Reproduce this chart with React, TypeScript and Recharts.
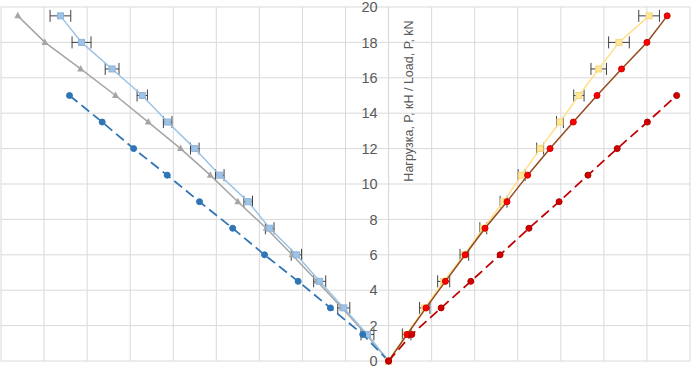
import React from 'react';
import {
  ScatterChart,
  Scatter,
  XAxis,
  YAxis,
  CartesianGrid,
  ErrorBar,
  ReferenceLine,
} from 'recharts';

// load steps, kN
const loads = [0, 1.5, 3, 4.5, 6, 7.5, 9, 10.5, 12, 13.5, 15, 16.5, 18, 19.5];

// left group (settlement drawn to the left)
const lightBlueX = [0, -0.49, -1.04, -1.6, -2.14, -2.76, -3.26, -3.92, -4.5, -5.13, -5.72, -6.42, -7.13, -7.62];
const lightBlueErr = [0, 0.15, 0.14, 0.14, 0.12, 0.1, 0.1, 0.1, 0.1, 0.1, 0.12, 0.16, 0.22, 0.24];
const grayX = [0, -0.52, -1.08, -1.66, -2.24, -2.84, -3.5, -4.14, -4.83, -5.58, -6.34, -7.15, -7.98, -8.61];
const darkBlueX = [0, -0.6, -1.35, -2.1, -2.88, -3.62, -4.39, -5.14, -5.92, -6.65, -7.41];

// right group
const yellowX = [0, 0.42, 0.84, 1.28, 1.76, 2.2, 2.67, 3.09, 3.52, 3.98, 4.42, 4.88, 5.35, 6.05];
const yellowErr = [0, 0.1, 0.12, 0.14, 0.1, 0.08, 0.08, 0.08, 0.08, 0.08, 0.12, 0.18, 0.24, 0.24];
const brownX = [0, 0.43, 0.87, 1.32, 1.78, 2.24, 2.75, 3.23, 3.75, 4.29, 4.84, 5.41, 6.0, 6.47];
const redDashX = [0, 0.54, 1.22, 1.91, 2.59, 3.26, 3.96, 4.63, 5.31, 6.01, 6.69];

const xTicks = [-9, -8, -7, -6, -5, -4, -3, -2, -1, 0, 1, 2, 3, 4, 5, 6, 7];
const yTicks = [0, 2, 4, 6, 8, 10, 12, 14, 16, 18, 20];
const axisTitle = 'Нагрузка, P, кН / Load, P, kN';

const build = (xs: number[], errs?: number[]) =>
  xs.map((x, i) => ({ x, y: loads[i], err: errs ? errs[i] : 0 }));

const lightBlueData = build(lightBlueX, lightBlueErr);
const grayData = build(grayX);
const darkBlueData = build(darkBlueX);
const yellowData = build(yellowX, yellowErr);
const brownData = build(brownX);
const redDashData = build(redDashX);
const tickLabelData = yTicks.map((y) => ({ x: 0, y }));

const FONT = '"Liberation Sans", Arial, sans-serif';

const circle = (fill: string, stroke: string) => (p: any) =>
  <circle cx={p.cx} cy={p.cy} r={3} fill={fill} stroke={stroke} strokeWidth={1} />;

const square = (fill: string, stroke: string) => (p: any) =>
  <rect x={p.cx - 3} y={p.cy - 3} width={6} height={6} fill={fill} stroke={stroke} strokeWidth={1} />;

const triangle = (fill: string) => (p: any) =>
  <polygon
    points={`${p.cx},${p.cy - 4} ${p.cx + 3.5},${p.cy + 2.5} ${p.cx - 3.5},${p.cy + 2.5}`}
    fill={fill}
  />;

// axis ticks are kept for the grid but drawn empty
const noTick = () => <g />;

const tickLabel = (p: any) => (
  <text
    x={p.cx - 11}
    y={p.cy}
    dy="0.36em"
    textAnchor="end"
    fontSize={14.5}
    fontFamily={FONT}
    fill="#595959"
  >
    {p.payload.y}
  </text>
);

const titleLabel = (p: any) => {
  const vb = p.viewBox;
  const cx = vb.x + 20;
  const cy = vb.y + 94;
  return (
    <text
      x={cx}
      y={cy}
      transform={`rotate(-90 ${cx} ${cy})`}
      textAnchor="middle"
      dominantBaseline="central"
      fontSize={12.5}
      fontFamily={FONT}
      fill="#595959"
    >
      {axisTitle}
    </text>
  );
};

export default function App() {
  return (
    <div style={{ position: 'absolute', left: 0, top: 0, width: 692, height: 367, background: '#fff' }}>
      <ScatterChart width={692} height={367} margin={{ top: 7, right: 2, bottom: 6, left: 1 }}>
        <CartesianGrid stroke="#d9d9d9" />
        <XAxis
          type="number"
          dataKey="x"
          domain={[-9, 7]}
          ticks={xTicks}
          tick={noTick}
          tickLine={false}
          height={0}
          axisLine={{ stroke: '#bfbfbf' }}
        />
        <YAxis
          type="number"
          dataKey="y"
          domain={[0, 20]}
          ticks={yTicks}
          width={0}
          tick={noTick}
          tickLine={false}
          axisLine={false}
        />
        <ReferenceLine x={0} stroke="#d9d9d9" label={titleLabel} />

        <Scatter
          data={grayData}
          fill="#a5a5a5"
          line={{ stroke: '#a5a5a5', strokeWidth: 1.5 }}
          shape={triangle('#a5a5a5')}
          isAnimationActive={false}
        />
        <Scatter
          data={lightBlueData}
          fill="#9dc3e6"
          line={{ stroke: '#9dc3e6', strokeWidth: 1.5 }}
          shape={square('#9dc3e6', '#8fb4d9')}
          isAnimationActive={false}
        >
          <ErrorBar dataKey="err" direction="x" width={6} stroke="#404040" strokeWidth={1} isAnimationActive={false} />
        </Scatter>
        <Scatter
          data={darkBlueData}
          fill="#2e75b6"
          line={{ stroke: '#2e75b6', strokeWidth: 1.75, strokeDasharray: '10 5' }}
          shape={circle('#2e75b6', '#2e75b6')}
          isAnimationActive={false}
        />
        <Scatter
          data={yellowData}
          fill="#ffe08a"
          line={{ stroke: '#ffe08a', strokeWidth: 1.5 }}
          shape={square('#ffe699', '#f5d77a')}
          isAnimationActive={false}
        >
          <ErrorBar dataKey="err" direction="x" width={6} stroke="#404040" strokeWidth={1} isAnimationActive={false} />
        </Scatter>
        <Scatter
          data={brownData}
          fill="#944a1e"
          line={{ stroke: '#944a1e', strokeWidth: 1.5 }}
          shape={circle('#ff0000', '#d00000')}
          isAnimationActive={false}
        />
        <Scatter
          data={redDashData}
          fill="#c00000"
          line={{ stroke: '#c00000', strokeWidth: 1.75, strokeDasharray: '10 5' }}
          shape={circle('#d00000', '#b00000')}
          isAnimationActive={false}
        />

        <Scatter data={tickLabelData} shape={tickLabel} isAnimationActive={false} />
      </ScatterChart>
    </div>
  );
}
